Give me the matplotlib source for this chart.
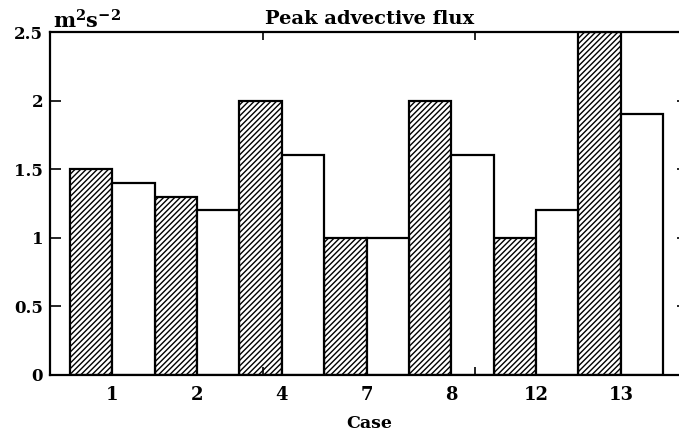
import numpy as np
import matplotlib
matplotlib.use("Agg")
import matplotlib.pyplot as plt

# peak advective flux per case, two runs per case
cases = ["1", "2", "4", "7", "8", "12", "13"]
hatched_vals = [1.5, 1.3, 2.0, 1.0, 2.0, 1.0, 2.5]
open_vals = [1.4, 1.2, 1.6, 1.0, 1.6, 1.2, 1.9]
y_ticks = [0, 0.5, 1, 1.5, 2, 2.5]
y_labels = ["0", "0.5", "1", "1.5", "2", "2.5"]

plt.rcParams["font.family"] = ["DejaVu Serif"]
plt.rcParams["font.weight"] = "bold"
plt.rcParams["mathtext.fontset"] = "dejavuserif"
plt.rcParams["mathtext.default"] = "bf"
plt.rcParams["hatch.linewidth"] = 1.0

fig = plt.figure(figsize=(6.79, 4.41), dpi=100)
# right spine sits just past the figure edge, only its inward ticks show
ax = fig.add_axes([0.0736, 0.1497, 0.94, 0.7777])

idx = np.arange(len(cases))
ax.bar(idx * 2, hatched_vals, width=1.0, align="edge", color="white",
       edgecolor="black", linewidth=1.6, hatch="//////")
ax.bar(idx * 2 + 1, open_vals, width=1.0, align="edge", color="white",
       edgecolor="black", linewidth=1.6)

ax.set_xlim(-0.47, 14.59)
ax.set_ylim(0, 2.5)

ax.set_xticks(idx * 2 + 1)
ax.set_xticklabels(cases, fontsize=13, fontweight="bold")
ax.tick_params(axis="x", which="major", length=0, pad=8)
xmin, xmax = ax.get_xlim()
ax.set_xticks([xmin + (xmax - xmin) / 3, xmin + 2 * (xmax - xmin) / 3], minor=True)
ax.tick_params(axis="x", which="minor", direction="in", length=6, width=1.2,
               top=True, bottom=True)

ax.set_yticks(y_ticks)
ax.set_yticklabels(y_labels, fontsize=12, fontweight="bold")
ax.tick_params(axis="y", direction="in", length=8, width=1.2, right=True, pad=5)

for side in ax.spines.values():
    side.set_linewidth(1.6)

ax.set_title("Peak advective flux", fontsize=14, fontweight="bold", pad=6)
ax.text(0.005, 1.0, r"m$^2$s$^{-2}$", transform=ax.transAxes, fontsize=15,
        va="bottom", ha="left")
ax.set_xlabel("Case", fontsize=12.5, fontweight="bold", labelpad=8)

fig.savefig("out.png", dpi=100)
